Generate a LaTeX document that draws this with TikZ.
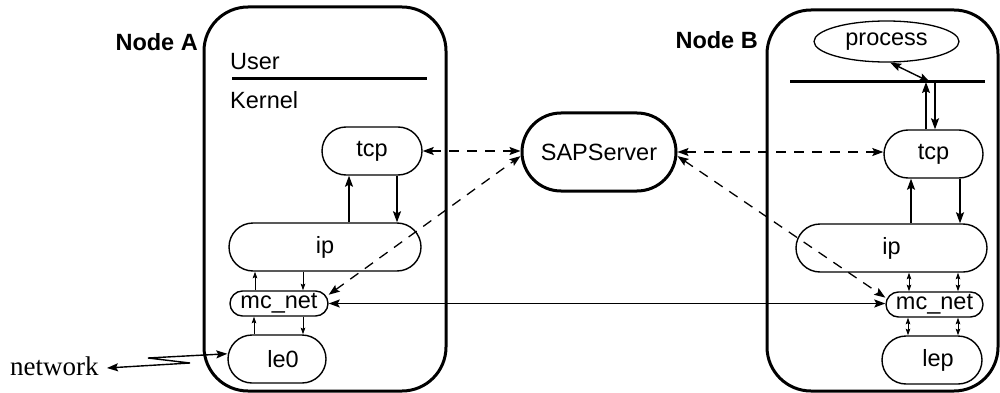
\documentclass[tikz,border=0pt]{standalone}
\usepackage{fontspec}
\setsansfont{Liberation Sans}
\newfontfamily\netfont{Liberation Serif}
\usetikzlibrary{arrows.meta,shapes.geometric,calc}

\begin{document}
\begin{tikzpicture}[x=1pt,y=-1pt,
  lbl/.style={font=\sffamily\fontsize{23.5}{28}\selectfont, inner sep=0pt},
  hostbox/.style={draw, line width=3pt, rectangle, rounded corners=44pt, inner sep=0pt},
  pill/.style={draw, line width=1.4pt, rectangle, inner sep=0pt,
    font=\sffamily\fontsize{23.5}{28}\selectfont},
  bar/.style={line width=3pt},
  bigtip/.style={-{Stealth[length=11pt,width=8pt,inset=2pt]}},
  bigtips/.style={{Stealth[length=11pt,width=8pt,inset=2pt]}-{Stealth[length=11pt,width=8pt,inset=2pt]}},
  smalltip/.style={-{Stealth[length=6.5pt,width=4.5pt,inset=1pt]}},
  smalltips/.style={{Stealth[length=6.5pt,width=4.5pt,inset=1pt]}-{Stealth[length=6.5pt,width=4.5pt,inset=1pt]}},
  link/.style={line width=1.4pt},
  remote/.style={line width=1.3pt, dash pattern=on 10pt off 8pt},
]
\useasboundingbox (0,0) rectangle (1000,393);

% ---- host frames ----
\node[hostbox, minimum width=242pt, minimum height=384pt] (hostA) at (325,199) {};
\node[hostbox, minimum width=231pt, minimum height=381pt] (hostB) at (882.5,200.5) {};

\node[lbl, font=\sffamily\bfseries\fontsize{23.5}{28}\selectfont, anchor=base east] (nameA) at (198,51) {Node A};
\node[lbl, font=\sffamily\bfseries\fontsize{23.5}{28}\selectfont, anchor=base east] (nameB) at (758,49) {Node B};

% ---- Node A stack ----
\node[lbl, anchor=base west] (user) at (230,70) {User};
\coordinate (ubA1) at (232,79);
\coordinate (ubA2) at (427,79);
\draw[bar] (ubA1) -- (ubA2);
\node[lbl, anchor=base west] (kernel) at (230,109) {Kernel};

\node[pill, minimum width=100pt, minimum height=48pt, rounded corners=24pt] (tcpA) at (372,151) {tcp};
\node[pill, minimum width=192pt, minimum height=48pt, rounded corners=24pt] (ipA) at (325,247) {ip};
\node[pill, minimum width=98pt, minimum height=25pt, rounded corners=12.5pt] (mcA) at (279,303.5) {mc\_net};
\node[pill, minimum width=98pt, minimum height=48pt, rounded corners=24pt] (leA) at (277,359) {\hspace{12pt}le0};

\draw[link, bigtip] (349,0 |- ipA.north) -- (349,0 |- tcpA.south);
\draw[link, bigtip] (397,0 |- tcpA.south) -- (397,0 |- ipA.north);
\draw[line width=1pt, smalltip] (255,0 |- mcA.north) -- (255,0 |- ipA.south);
\draw[line width=1pt, smalltip] (303,0 |- ipA.south) -- (303,0 |- mcA.north);
\draw[line width=1pt, smalltip] (254,0 |- leA.north) -- (254,0 |- mcA.south);
\draw[line width=1pt, smalltip] (303,0 |- mcA.south) -- (303,0 |- leA.north);

% ---- external network ----
\node[inner sep=0pt, anchor=base west, font=\netfont\fontsize{27}{32}\selectfont] (net) at (10,375) {network};
\coordinate (z1) at (148,358);
\coordinate (z2) at (190,363);
\coordinate (z3) at (107,368);
\draw[link, bigtips] (leA.174) -- (z1) -- (z2) -- (z3);

% ---- server ----
\node[pill, line width=3pt, minimum width=154pt, minimum height=78pt, rounded corners=39pt] (sap) at (599,152) {SAPServer};

% ---- Node B stack ----
\node[draw, line width=1.3pt, ellipse, minimum width=145pt, minimum height=41pt, inner sep=0pt,
      font=\sffamily\fontsize{23.5}{28}\selectfont] (proc) at (886.5,41.5) {process};
\coordinate (ubB1) at (790,82);
\coordinate (ubB2) at (985,82);
\coordinate (joint) at (930,82);
\draw[bar] (ubB1) -- (ubB2);

\node[pill, minimum width=99pt, minimum height=48pt, rounded corners=24pt] (tcpB) at (933.5,154) {tcp};
\node[pill, minimum width=191pt, minimum height=48pt, rounded corners=24pt] (ipB) at (891.5,248) {ip};
\node[pill, minimum width=97pt, minimum height=25pt, rounded corners=12.5pt] (mcB) at (934.5,304.5) {mc\_net};
\node[pill, minimum width=100pt, minimum height=48pt, rounded corners=24pt] (lep) at (932,360) {\hspace{12pt}lep};

\draw[link, bigtips] (proc.-80) -- (joint);
\draw[link, bigtip] (926,0 |- tcpB.north) -- (926,0 |- joint);
\draw[link, bigtip] (935,0 |- joint) -- (935,0 |- tcpB.north);
\draw[link, bigtip] (911,0 |- ipB.north) -- (911,0 |- tcpB.south);
\draw[link, bigtip] (960,0 |- tcpB.south) -- (960,0 |- ipB.north);
\draw[line width=1pt, smalltips] (909,0 |- ipB.south) -- (909,0 |- mcB.north);
\draw[line width=1pt, smalltips] (958,0 |- ipB.south) -- (958,0 |- mcB.north);
\draw[line width=1pt, smalltips] (908,0 |- mcB.south) -- (908,0 |- lep.north);
\draw[line width=1pt, smalltips] (958,0 |- mcB.south) -- (958,0 |- lep.north);

% ---- links between hosts and server ----
\draw[remote, bigtips] (tcpA.east) -- (tcpA.east -| sap.west);
\draw[remote, bigtips] (sap.east) -- (sap.east -| tcpB.west);
\draw[remote, bigtips] (mcA.10) -- (sap.183);
\draw[remote, bigtips] (sap.-3) -- (mcB.172);
\draw[link, bigtips] (mcA.east) -- (mcA.east -| mcB.west);
\end{tikzpicture}
\end{document}
